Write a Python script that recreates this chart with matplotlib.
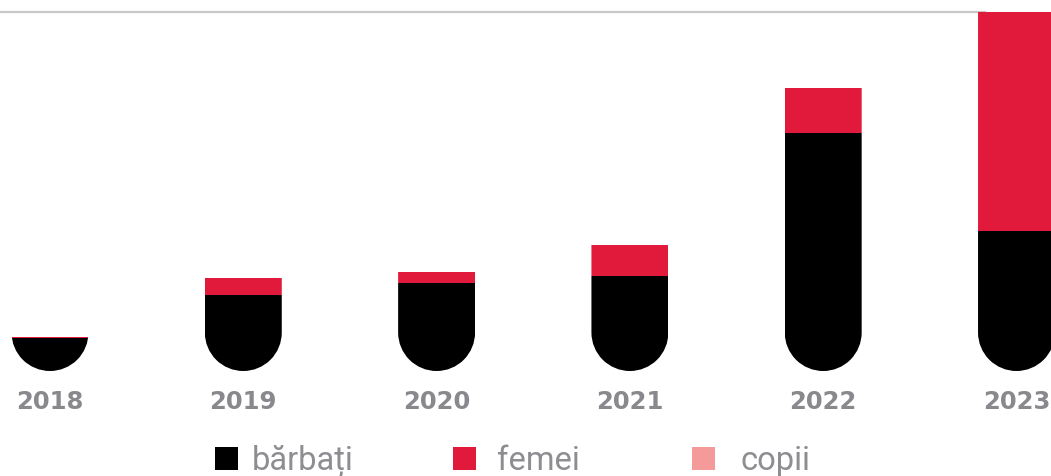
import matplotlib
matplotlib.use('Agg')
import matplotlib.pyplot as plt
import numpy as np
from matplotlib.path import Path
from matplotlib.transforms import Affine2D
from matplotlib.patches import Rectangle

plt.rcParams['font.family'] = ['DejaVu Sans']

# date
ani = ['2018', '2019', '2020', '2021', '2022', '2023']
barbati = [33, 76, 88, 95, 238, 140]
femei = [1.5, 17, 11, 31, 45, 219]
copii = [0, 0, 0, 0, 0, 0]
serii = ['bărbați', 'femei', 'copii']
culori = ['#000000', '#e1193a', '#f59a9a']

W, H = 1051, 477
fig = plt.figure(figsize=(W / 100, H / 100), dpi=100)
ax = fig.add_axes([0, 105 / H, 1, 359 / H])

x = np.arange(len(ani))
latime = 0.398
ax.set_xlim(-50 / 193.3, (W - 50) / 193.3)
ax.set_ylim(0, 359)

jos = np.zeros(len(ani))
bare = []
for vals, c in zip([barbati, femei, copii], culori):
    b = ax.bar(x, vals, latime, bottom=jos, color=c, zorder=2, linewidth=0)
    bare.append(b)
    jos += np.array(vals)

# fund rotunjit: semicerc in pixeli
fig.canvas.draw()
px_x = ax.transData.transform((1, 0))[0] - ax.transData.transform((0, 0))[0]
px_y = ax.transData.transform((0, 1))[1] - ax.transData.transform((0, 0))[1]
rx = latime / 2
ry = rx * px_x / px_y
arc = Path.arc(180, 360)
for i, xi in enumerate(x):
    v = Affine2D().scale(rx, ry).translate(xi, ry).transform(arc.vertices)
    verts = np.vstack([v, [[xi + rx, 1e4], [xi - rx, 1e4], [xi - rx, ry]]])
    codes = list(arc.codes) + [Path.LINETO, Path.LINETO, Path.CLOSEPOLY]
    p = Path(verts, codes)
    for b in bare:
        b.patches[i].set_clip_path(p, ax.transData)

# linia de sus
ax.axhline(359, xmin=0, xmax=985 / W, color='#c8c8c8', lw=1.6, clip_on=False, zorder=1)

for s in ax.spines.values():
    s.set_visible(False)
ax.set_yticks([])
ax.set_xticks(x)
ax.set_xticklabels(ani, fontsize=17.5, fontweight='bold', color='#88888d')
ax.tick_params(axis='x', length=0, pad=13)

# legenda
patrate = [215, 453, 692]
texte = [252, 497, 741]
for lab, c, px, tx in zip(serii, culori, patrate, texte):
    fig.add_artist(Rectangle((px / W, (H - 471) / H), 23 / W, 23 / H,
                             transform=fig.transFigure, color=c, lw=0))
    fig.text(tx / W, (H - 470) / H, lab, fontsize=23.5, color='#8d8d92',
             family=['Roboto', 'DejaVu Sans'], va='baseline', ha='left')

fig.savefig('out.png', dpi=100)
